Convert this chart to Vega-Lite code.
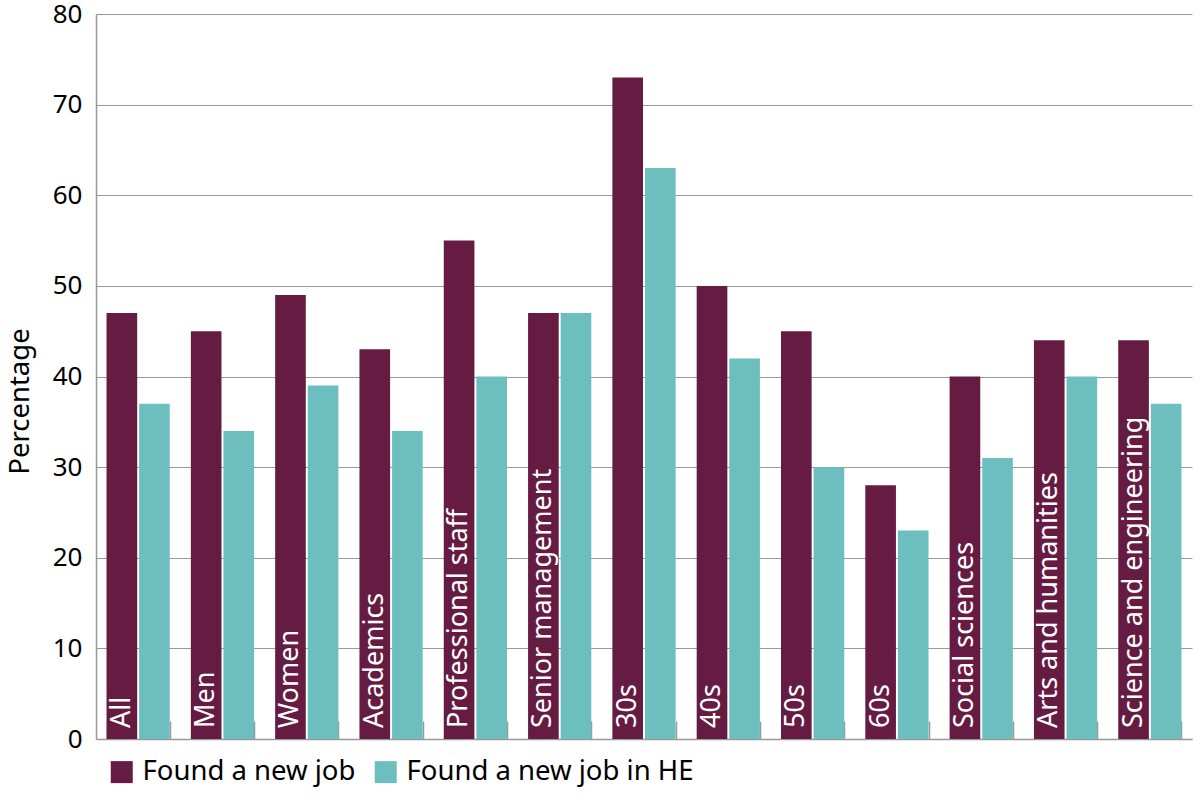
{
  "$schema": "https://vega.github.io/schema/vega-lite/v6.json",
  "width": 1096,
  "height": 725,
  "autosize": {"type": "none"},
  "padding": {"left": 96, "top": 14, "right": 8, "bottom": 61},
  "background": "white",
  "config": {
    "font": "Noto Sans",
    "view": {"stroke": null},
    "axis": {"labelFont": "Noto Sans", "titleFont": "Noto Sans"},
    "legend": {"labelFont": "Noto Sans"}
  },
  "data": {
    "values": [
      {"group": "All", "series": "Found a new job", "value": 47},
      {"group": "All", "series": "Found a new job in HE", "value": 37},
      {"group": "Men", "series": "Found a new job", "value": 45},
      {"group": "Men", "series": "Found a new job in HE", "value": 34},
      {"group": "Women", "series": "Found a new job", "value": 49},
      {"group": "Women", "series": "Found a new job in HE", "value": 39},
      {"group": "Academics", "series": "Found a new job", "value": 43},
      {"group": "Academics", "series": "Found a new job in HE", "value": 34},
      {"group": "Professional staff", "series": "Found a new job", "value": 55},
      {"group": "Professional staff", "series": "Found a new job in HE", "value": 40},
      {"group": "Senior management", "series": "Found a new job", "value": 47},
      {"group": "Senior management", "series": "Found a new job in HE", "value": 47},
      {"group": "30s", "series": "Found a new job", "value": 73},
      {"group": "30s", "series": "Found a new job in HE", "value": 63},
      {"group": "40s", "series": "Found a new job", "value": 50},
      {"group": "40s", "series": "Found a new job in HE", "value": 42},
      {"group": "50s", "series": "Found a new job", "value": 45},
      {"group": "50s", "series": "Found a new job in HE", "value": 30},
      {"group": "60s", "series": "Found a new job", "value": 28},
      {"group": "60s", "series": "Found a new job in HE", "value": 23},
      {"group": "Social sciences", "series": "Found a new job", "value": 40},
      {"group": "Social sciences", "series": "Found a new job in HE", "value": 31},
      {"group": "Arts and humanities", "series": "Found a new job", "value": 44},
      {"group": "Arts and humanities", "series": "Found a new job in HE", "value": 40},
      {"group": "Science and engineering", "series": "Found a new job", "value": 44},
      {"group": "Science and engineering", "series": "Found a new job in HE", "value": 37}
    ]
  },
  "encoding": {
    "x": {
      "field": "group",
      "type": "nominal",
      "sort": null,
      "scale": {"paddingInner": 0.25, "paddingOuter": 0.125},
      "axis": {
        "title": null,
        "labels": false,
        "domainColor": "#999999",
        "domainWidth": 1.5,
        "tickColor": "#999999",
        "tickWidth": 1.5,
        "tickSize": -18,
        "tickBand": "extent",
        "grid": false
      }
    },
    "xOffset": {
      "field": "series",
      "type": "nominal",
      "scale": {"paddingInner": 0.06}
    }
  },
  "layer": [
    {
      "mark": {"type": "bar"},
      "encoding": {
        "y": {
          "field": "value",
          "type": "quantitative",
          "scale": {"domain": [0, 80], "nice": false},
          "axis": {
            "title": "Percentage",
            "titleFontSize": 27.5,
            "titleFontWeight": "normal",
            "titleColor": "#000000",
            "titlePadding": 18,
            "titleY": 387,
            "labelFontSize": 26,
            "labelColor": "#000000",
            "labelPadding": 14,
            "labelOverlap": false,
            "values": [0, 10, 20, 30, 40, 50, 60, 70, 80],
            "ticks": false,
            "domainColor": "#999999",
            "domainWidth": 1.5,
            "gridColor": "#999999",
            "gridWidth": 1.2
          }
        },
        "color": {
          "field": "series",
          "type": "nominal",
          "scale": {
            "domain": ["Found a new job", "Found a new job in HE"],
            "range": ["#661B42", "#6DBFBF"]
          },
          "legend": {
            "title": null,
            "orient": "none",
            "legendX": 12,
            "legendY": 744,
            "direction": "horizontal",
            "symbolType": "square",
            "symbolSize": 484,
            "symbolStrokeWidth": 0,
            "labelFontSize": 27.5,
            "labelColor": "#000000",
            "labelLimit": 400,
            "columnPadding": 16,
            "labelOffset": 7
          }
        }
      }
    },
    {
      "transform": [{"filter": "datum.series === 'Found a new job'"}],
      "mark": {
        "type": "text",
        "angle": 270,
        "align": "left",
        "baseline": "middle",
        "color": "white",
        "fontSize": 27,
        "dx": 11
      },
      "encoding": {
        "y": {
          "datum": 0,
          "type": "quantitative",
          "axis": {
            "title": "Percentage",
            "titleFontSize": 27.5,
            "titleFontWeight": "normal",
            "titleColor": "#000000",
            "titlePadding": 18,
            "titleY": 387,
            "labelFontSize": 26,
            "labelColor": "#000000",
            "labelPadding": 14,
            "labelOverlap": false,
            "values": [0, 10, 20, 30, 40, 50, 60, 70, 80],
            "ticks": false,
            "domainColor": "#999999",
            "domainWidth": 1.5,
            "gridColor": "#999999",
            "gridWidth": 1.2
          }
        },
        "text": {"field": "group"}
      }
    }
  ]
}
